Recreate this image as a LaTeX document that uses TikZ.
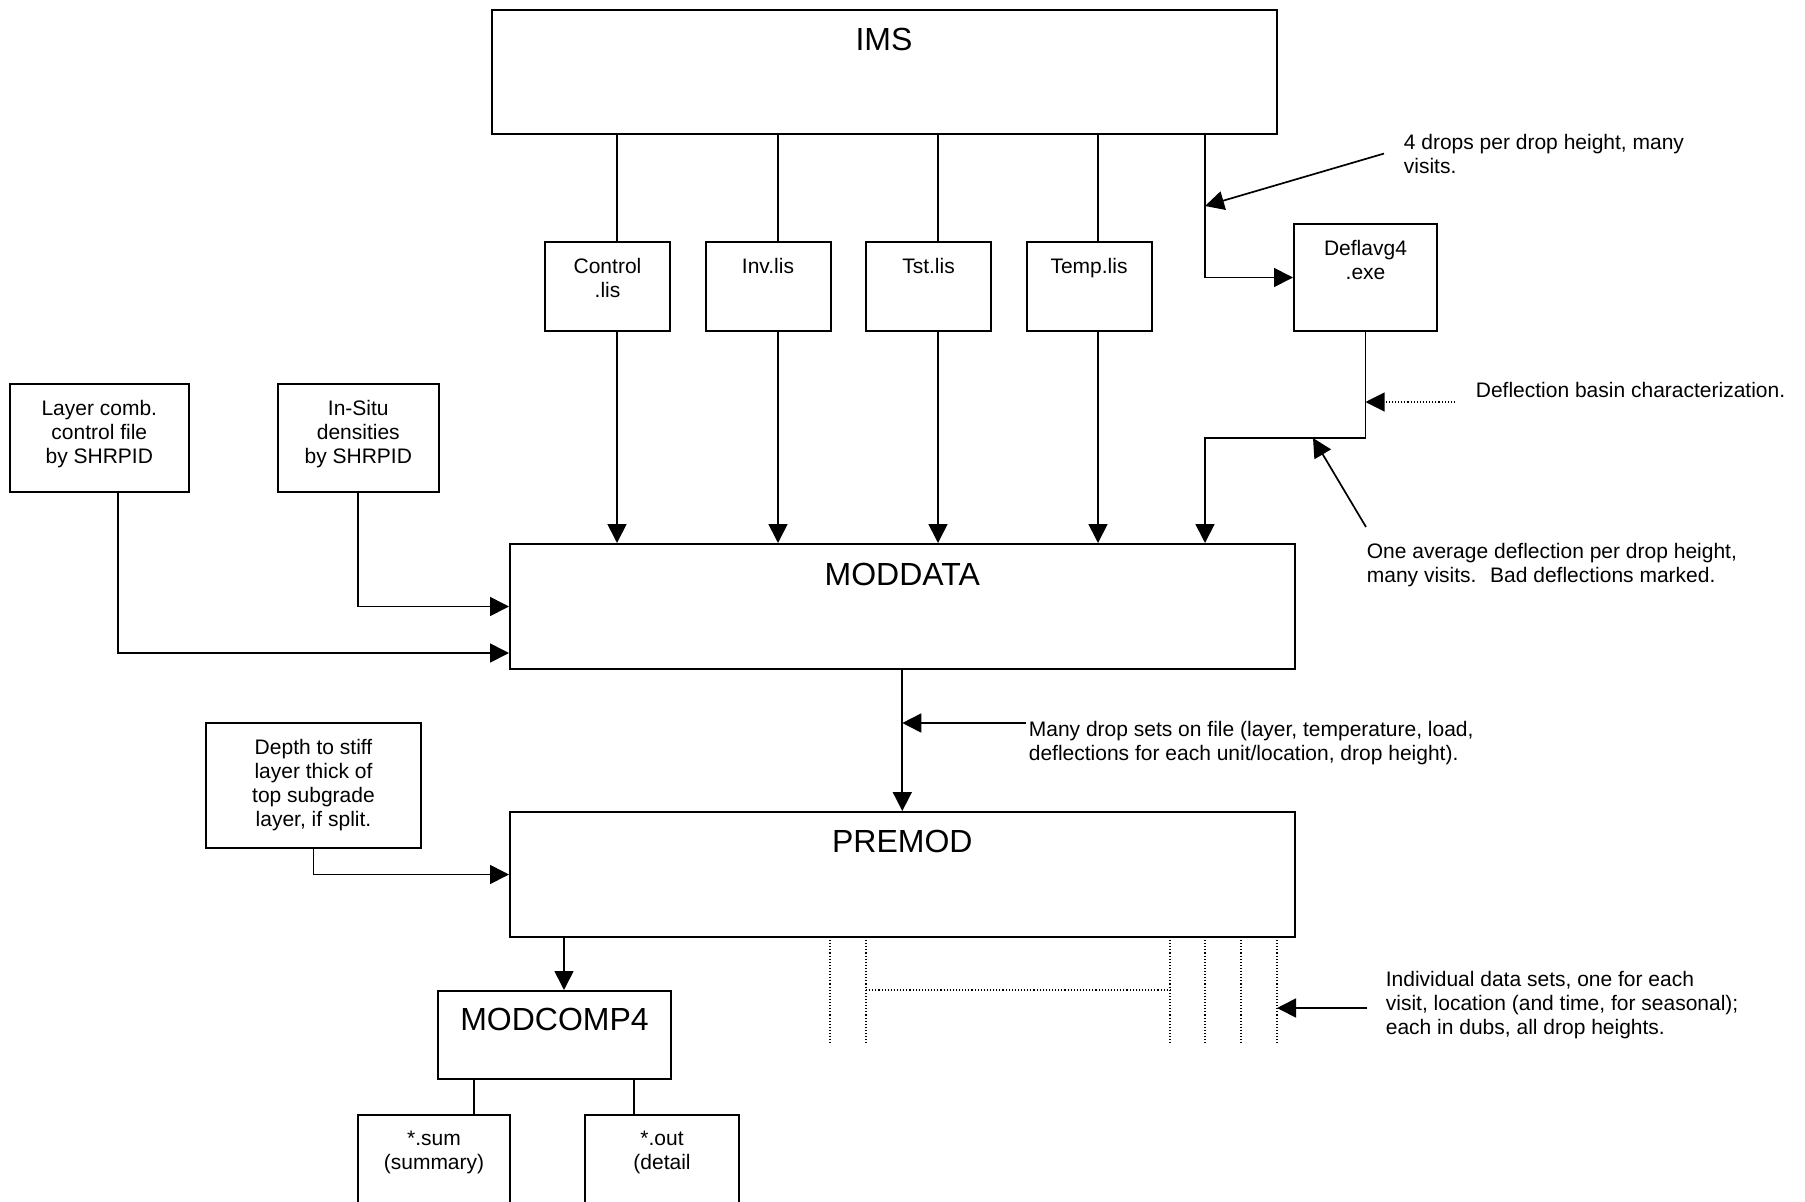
\documentclass[tikz,border=0pt]{standalone}
\usepackage{fontspec}
\setmainfont{Liberation Sans}
\usetikzlibrary{arrows.meta}

\begin{document}
\begin{tikzpicture}[x=1pt,y=-1pt,line width=1.7pt,>={Triangle[length=19pt,width=19pt]}]
		\tikzstyle{box}=[rectangle,draw,line width=2pt,inner sep=0pt]
		\tikzstyle{title}=[anchor=base,inner sep=0pt,font=\fontsize{32}{38}\selectfont]
		\tikzstyle{lbl}=[anchor=north,inner sep=0pt,align=center,font=\fontsize{21}{24}\selectfont]
		\tikzstyle{note}=[anchor=north west,inner sep=0pt,align=left,font=\fontsize{21}{24}\selectfont]

		\useasboundingbox (0,0) rectangle (1805,1202);
		\clip (0,0) rectangle (1805,1202);

		% IMS
		\node[box,minimum width=785pt,minimum height=124pt] (ims) at (884,72) {};
		\node[title] (ims-t) at ([yshift=-41.5pt]ims.north) {IMS};

		% MODDATA
		\node[box,minimum width=784.6pt,minimum height=125pt] (moddata) at (902.3,606.5) {};
		\node[title] (moddata-t) at ([yshift=-42pt]moddata.north) {MODDATA};

		% list files
		\foreach \n/\cx/\lx/\txt in {ctl/607.5/617/{Control\\.lis}, inv/768/778/{Inv.lis}, tst/928.5/938/{Tst.lis}, tmp/1089/1098/{Temp.lis}}{
			\node[box,minimum width=125pt,minimum height=89pt] (\n) at (\cx,286.5) {};
			\node[lbl] (\n-t) at ([yshift=-16pt]\n.north) {\txt};
			\coordinate (\n-x) at (\lx,0);
			\draw (ims.south -| \n-x) -- (\n.north -| \n-x);
			\draw[->] (\n.south -| \n-x) -- (moddata.north -| \n-x);
		}

		% Deflavg4
		\node[box,minimum width=143pt,minimum height=107pt] (defl) at (1365.5,277.5) {};
		\node[lbl] (defl-t) at ([yshift=-16pt]defl.north) {Deflavg4\\.exe};
		\coordinate (defl-x) at (1205,0);
		\coordinate (defl-bend) at (1365.5,438);
		\draw[->] (ims.south -| defl-x) |- (defl.west);
		\draw[->] (defl.south) -- (defl-bend) -| (moddata.north -| defl-x);

		% side inputs
		\node[box,minimum width=178.6pt,minimum height=108pt] (layer) at (99.3,438) {};
		\node[lbl] (layer-t) at ([yshift=-16pt]layer.north) {Layer comb.\\control file\\by SHRPID};
		\node[box,minimum width=160.6pt,minimum height=108pt] (insitu) at (358.3,438) {};
		\node[lbl] (insitu-t) at ([yshift=-16pt]insitu.north) {In-Situ\\densities\\by SHRPID};
		\draw[->] ([xshift=18.6pt]layer.south) |- ([yshift=17pt]moddata.south west);
		\draw[->] (insitu.south) |- (moddata.west);

		% PREMOD
		\node[box,minimum width=784.6pt,minimum height=125pt] (premod) at (902.3,874.5) {};
		\node[title] (premod-t) at ([yshift=-41.5pt]premod.north) {PREMOD};
		\draw[->] (moddata.south) -- (premod.north);

		\node[box,minimum width=215pt,minimum height=125pt] (depth) at (313.5,785.5) {};
		\node[lbl] (depth-t) at ([yshift=-16pt]depth.north) {Depth to stiff\\layer thick of\\top subgrade\\layer, if split.};
		\draw[->] (depth.south) |- (premod.west);

		% MODCOMP4
		\node[box,minimum width=233pt,minimum height=88pt] (modcomp) at (554.5,1035) {};
		\node[title] (modcomp-t) at ([yshift=-40.5pt]modcomp.north) {MODCOMP4};
		\coordinate (modcomp-x) at (564,0);
		\draw[->] (premod.south -| modcomp-x) -- (modcomp.north -| modcomp-x);

		% outputs
		\node[box,minimum width=152pt,minimum height=120pt] (sum) at (434,1175) {};
		\node[lbl] (sum-t) at ([yshift=-16pt]sum.north) {*.sum\\(summary)};
		\node[box,minimum width=154pt,minimum height=120pt] (out) at (662,1175) {};
		\node[lbl] (out-t) at ([yshift=-16pt]out.north) {*.out\\(detail};
		\coordinate (sum-x) at (474,0);
		\coordinate (out-x) at (634,0);
		\draw (modcomp.south -| sum-x) -- (sum.north -| sum-x);
		\draw (modcomp.south -| out-x) -- (out.north -| out-x);

		% data sets
		\foreach \x in {830,866,1170,1205,1241,1277}
			\draw[dotted,line width=1.1pt] (\x,940) -- (\x,1045);
		\draw[dotted,line width=1.1pt] (866,990) -- (1170,990);

		% notes
		\node[note] (n-drops) at (1403,133) {4 drops per drop height, many\\visits.};
		\coordinate (drops-tip) at (1205,206);
		\draw[->] ([xshift=-19pt]n-drops.west) -- (drops-tip);

		\node[note] (n-basin) at (1475,381) {Deflection basin characterization.};
		\coordinate (basin-from) at (1455,402);
		\draw[->,dotted,line width=1.1pt] (basin-from) -- (basin-from -| defl.south);

		\node[note] (n-avg) at (1366,542) {One average deflection per drop height,\\many visits.~ Bad deflections marked.};
		\coordinate (avg-tip) at (1313,438);
		\draw[->] ([yshift=15pt]n-avg.north west) -- (avg-tip);

		\node[note] (n-sets) at (1028,720) {Many drop sets on file (layer, temperature, load,\\deflections for each unit/location, drop height).};
		\coordinate (sets-from) at (1026,723);
		\draw[->] (sets-from) -- (sets-from -| moddata.south);

		\node[note] (n-indiv) at (1385,970) {Individual data sets, one for each\\visit, location (and time, for seasonal);\\each in dubs, all drop heights.};
		\coordinate (indiv-from) at (1367,1008);
		\draw[->] (indiv-from) -- (indiv-from -| 1277,0);

	\end{tikzpicture}
\end{document}
